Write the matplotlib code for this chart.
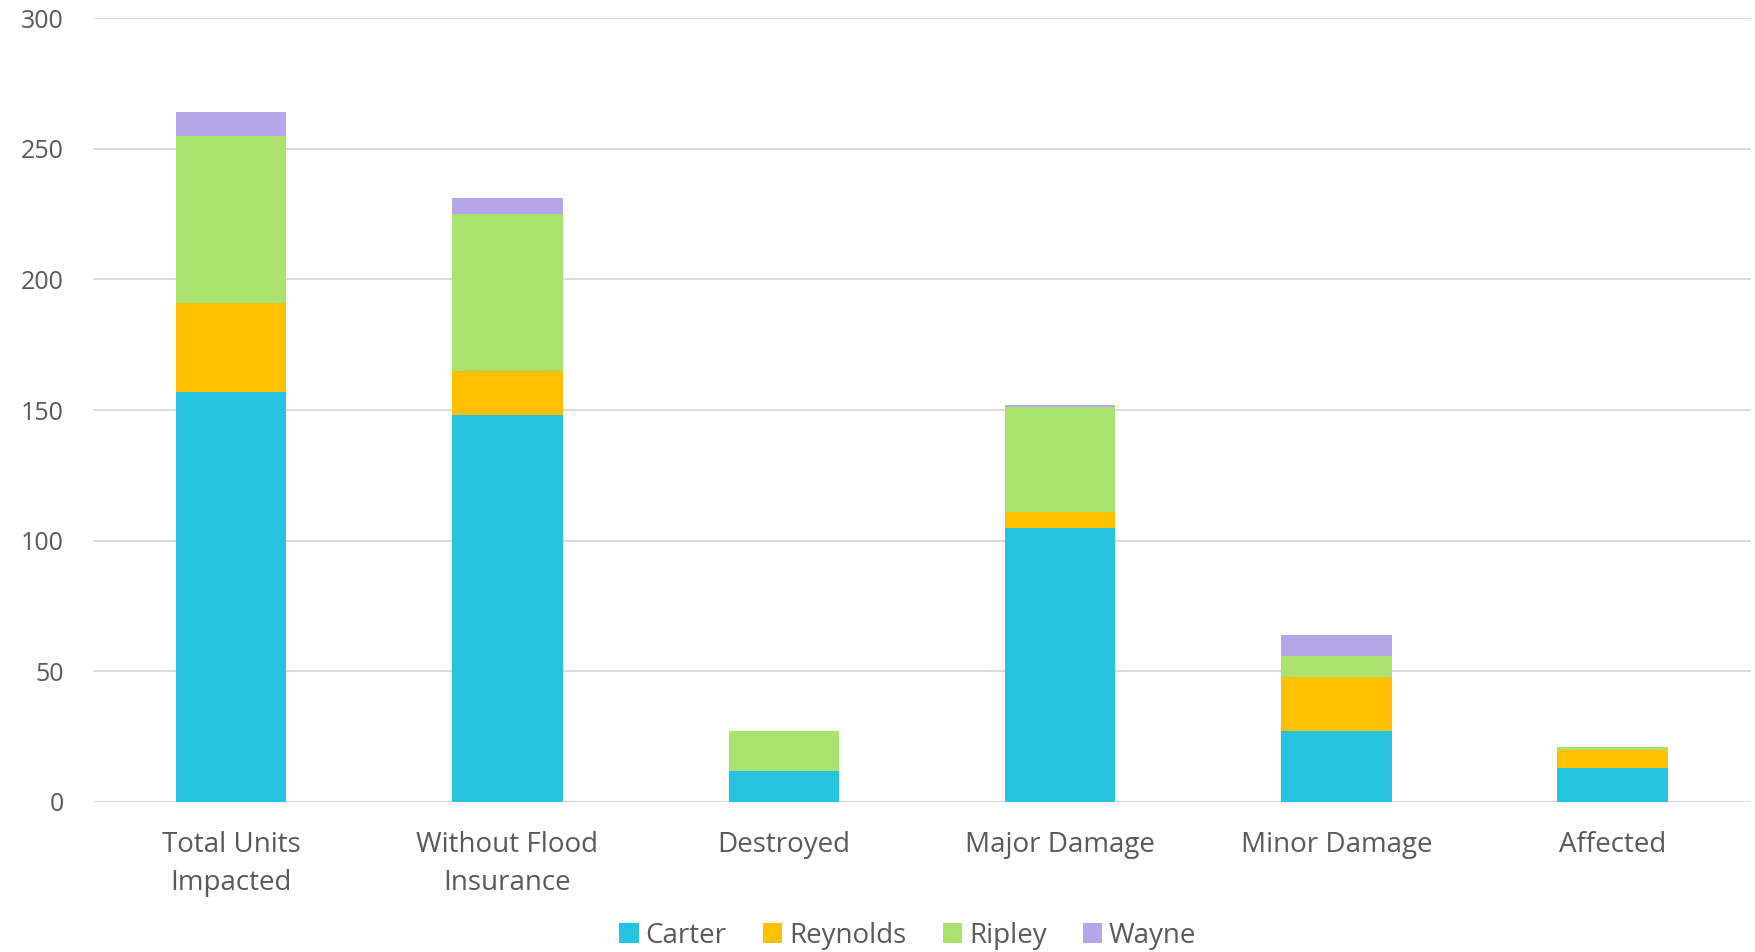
import matplotlib.pyplot as plt
import numpy as np

plt.rcParams['font.family'] = ['Open Sans', 'DejaVu Sans']

categories = ['Total Units\nImpacted', 'Without Flood\nInsurance', 'Destroyed',
              'Major Damage', 'Minor Damage', 'Affected']
carter = [157, 148, 12, 105, 27, 13]
reynolds = [34, 17, 0, 6, 21, 7]
ripley = [64, 60, 15, 40, 8, 1]
wayne = [9, 6, 0, 1, 8, 0]

series = [('Carter', carter, '#24C4E1'),
          ('Reynolds', reynolds, '#FFC000'),
          ('Ripley', ripley, '#A9E26F'),
          ('Wayne', wayne, '#B3A7EA')]

fig = plt.figure(figsize=(17.56, 9.52), dpi=100)
ax = fig.add_axes([0.053, 0.1576, 0.944, 0.8234])

x = np.arange(len(categories))
bottom = np.zeros(len(categories))
for name, vals, col in series:
    ax.bar(x, vals, width=0.4, bottom=bottom, color=col, label=name, zorder=3)
    bottom += np.array(vals)

ax.set_xlim(-0.5, 5.5)
ax.set_ylim(0, 300)
ax.set_yticks(range(0, 301, 50))
ax.grid(axis='y', color='#d9d9d9', linewidth=1.3, zorder=0)
for s in ax.spines.values():
    s.set_visible(False)
ax.tick_params(axis='both', length=0, colors='#595959')
ax.tick_params(axis='y', pad=21, labelsize=18)
ax.tick_params(axis='x', pad=21, labelsize=20)
ax.set_xticks(x)
ax.set_xticklabels(categories, color='#595959', linespacing=1.45)

fig.legend(loc='lower center', bbox_to_anchor=(0.517, -0.024), ncol=4, frameon=False,
           fontsize=20, labelcolor='#595959', handlelength=0.7, handleheight=0.7,
           handletextpad=0.25, columnspacing=1.3)

plt.savefig('out.png')
